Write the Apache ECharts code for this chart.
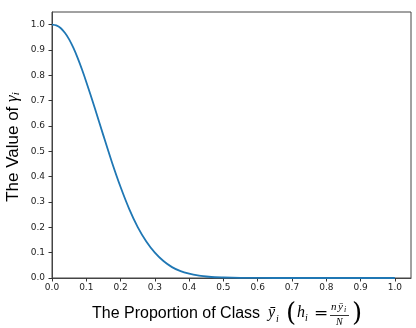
<!DOCTYPE html>
<html>
<head>
<meta charset="utf-8">
<script src="https://cdn.jsdelivr.net/npm/echarts@6/dist/echarts.min.js"></script>
<style>
  html, body { margin: 0; padding: 0; background: #fff; }
  #main { width: 416px; height: 328px; }
</style>
</head>
<body>
<div id="main"></div>
<script>
// values
var proportion = [0, 0.0125, 0.025, 0.0375, 0.05, 0.0625, 0.075, 0.0875, 0.1, 0.125, 0.15, 0.175, 0.2,
  0.225, 0.25, 0.275, 0.3, 0.325, 0.35, 0.375, 0.4, 0.425, 0.45, 0.475, 0.5, 0.55, 0.6, 0.7, 0.8, 0.9, 1.0];
var gamma = [1.0, 0.997, 0.987, 0.968, 0.942, 0.908, 0.868, 0.823, 0.774, 0.670, 0.562, 0.456, 0.359,
  0.273, 0.201, 0.144, 0.100, 0.067, 0.043, 0.027, 0.017, 0.010, 0.006, 0.003, 0.002, 0.0004, 0.0001, 0, 0, 0, 0];
var xTickLabels = ['0.0', '0.1', '0.2', '0.3', '0.4', '0.5', '0.6', '0.7', '0.8', '0.9', '1.0'];
var yTickLabels = ['0.0', '0.1', '0.2', '0.3', '0.4', '0.5', '0.6', '0.7', '0.8', '0.9', '1.0'];

var points = proportion.map(function (x, i) { return [x, gamma[i]]; });

function tickLabel(list) {
  return function (v) {
    var k = Math.round(v * 10);
    if (Math.abs(v * 10 - k) > 1e-6) return '';
    return list[k] || '';
  };
}

var axisCommon = {
  type: 'value',
  min: 0,
  interval: 0.1,
  splitLine: { show: false },
  axisLine: { show: true, lineStyle: { color: '#444', width: 1 } },
  axisTick: { show: true, inside: false, length: 3.5, lineStyle: { color: '#333' } }
};

var mathFont = 'italic 16px "Liberation Serif"';
var myChart = echarts.init(document.getElementById('main'));
myChart.setOption({
  animation: false,
  grid: { left: 52, right: 5, top: 12, bottom: 50, show: true, borderColor: '#444', borderWidth: 1 },
  xAxis: Object.assign({}, axisCommon, {
    max: 1.047,
    axisLabel: { formatter: tickLabel(xTickLabels), showMaxLabel: false, fontSize: 9, fontFamily: 'DejaVu Sans', color: '#222', margin: 5 }
  }),
  yAxis: Object.assign({}, axisCommon, {
    max: 1.05,
    axisLabel: { formatter: tickLabel(yTickLabels), showMaxLabel: false, fontSize: 9, fontFamily: 'DejaVu Sans', color: '#222', margin: 7 }
  }),
  series: [{
    type: 'line',
    data: points,
    showSymbol: false,
    symbol: 'none',
    smooth: 0.25,
    lineStyle: { color: '#1f77b4', width: 1.8 }
  }],
  graphic: [
    {
      type: 'text', x: 13, y: 147, rotation: Math.PI / 2,
      style: {
        text: 'The Value of {g|γ}{s|i}',
        fontSize: 17, fontFamily: 'Liberation Sans', fill: '#000',
        align: 'center', verticalAlign: 'middle',
        rich: {
          g: { fontSize: 17, fontFamily: 'Liberation Serif', fontStyle: 'italic' },
          s: { fontSize: 11, fontFamily: 'Liberation Serif', fontStyle: 'italic', padding: [6, 0, 0, 0] }
        }
      }
    },
    { type: 'text', x: 92, y: 314, style: { text: 'The Proportion of Class', fontSize: 16, fontFamily: 'Liberation Sans', fill: '#000', verticalAlign: 'middle' } },
    { type: 'text', x: 268, y: 313, style: { text: 'ȳ', font: mathFont, fill: '#000', verticalAlign: 'middle' } },
    { type: 'text', x: 276, y: 319, style: { text: 'i', font: 'italic 10px "Liberation Serif"', fill: '#000', verticalAlign: 'middle' } },
    { type: 'text', x: 286, y: 314, style: { text: '(', font: '26px "DejaVu Serif"', fill: '#000', verticalAlign: 'middle' } },
    { type: 'text', x: 297, y: 313, style: { text: 'h', font: mathFont, fill: '#000', verticalAlign: 'middle' } },
    { type: 'text', x: 305, y: 318, style: { text: 'i', font: 'italic 10px "Liberation Serif"', fill: '#000', verticalAlign: 'middle' } },
    { type: 'text', x: 314, y: 314, style: { text: '=', font: '17px "DejaVu Serif"', fill: '#000', verticalAlign: 'middle' } },
    { type: 'text', x: 331, y: 307, style: { text: 'n', font: 'italic 11px "Liberation Serif"', fill: '#000', verticalAlign: 'middle' } },
    { type: 'text', x: 338, y: 307, style: { text: 'ȳ', font: 'italic 11px "Liberation Serif"', fill: '#000', verticalAlign: 'middle' } },
    { type: 'text', x: 344, y: 310, style: { text: 'i', font: 'italic 8px "Liberation Serif"', fill: '#000', verticalAlign: 'middle' } },
    { type: 'line', shape: { x1: 330, y1: 315.5, x2: 349, y2: 315.5 }, style: { stroke: '#000', lineWidth: 0.8 } },
    { type: 'text', x: 336, y: 322, style: { text: 'N', font: 'italic 10px "Liberation Serif"', fill: '#000', verticalAlign: 'middle' } },
    { type: 'text', x: 352, y: 314, style: { text: ')', font: '26px "DejaVu Serif"', fill: '#000', verticalAlign: 'middle' } }
  ]
});
</script>
</body>
</html>
